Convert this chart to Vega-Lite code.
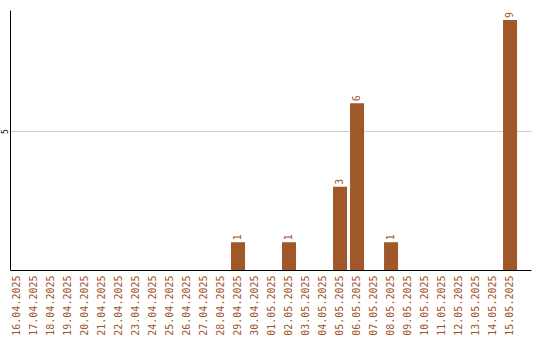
{
  "$schema": "https://vega.github.io/schema/vega-lite/v6.json",
  "autosize": "none",
  "width": 521,
  "height": 260,
  "padding": {"left": 10, "top": 10, "right": 9, "bottom": 70},
  "background": "white",
  "config": {
    "view": {"stroke": null},
    "font": "DejaVu Sans Mono"
  },
  "data": {
    "values": [
      {"date": "16.04.2025", "n": 0},
      {"date": "17.04.2025", "n": 0},
      {"date": "18.04.2025", "n": 0},
      {"date": "19.04.2025", "n": 0},
      {"date": "20.04.2025", "n": 0},
      {"date": "21.04.2025", "n": 0},
      {"date": "22.04.2025", "n": 0},
      {"date": "23.04.2025", "n": 0},
      {"date": "24.04.2025", "n": 0},
      {"date": "25.04.2025", "n": 0},
      {"date": "26.04.2025", "n": 0},
      {"date": "27.04.2025", "n": 0},
      {"date": "28.04.2025", "n": 0},
      {"date": "29.04.2025", "n": 1},
      {"date": "30.04.2025", "n": 0},
      {"date": "01.05.2025", "n": 0},
      {"date": "02.05.2025", "n": 1},
      {"date": "03.05.2025", "n": 0},
      {"date": "04.05.2025", "n": 0},
      {"date": "05.05.2025", "n": 3},
      {"date": "06.05.2025", "n": 6},
      {"date": "07.05.2025", "n": 0},
      {"date": "08.05.2025", "n": 1},
      {"date": "09.05.2025", "n": 0},
      {"date": "10.05.2025", "n": 0},
      {"date": "11.05.2025", "n": 0},
      {"date": "12.05.2025", "n": 0},
      {"date": "13.05.2025", "n": 0},
      {"date": "14.05.2025", "n": 0},
      {"date": "15.05.2025", "n": 9}
    ]
  },
  "encoding": {
    "x": {
      "field": "date",
      "type": "ordinal",
      "sort": null,
      "title": null,
      "scale": {"paddingInner": 0.176, "paddingOuter": 0.41, "align": 0},
      "axis": {
        "labelAngle": -90,
        "labelAlign": "right",
        "labelBaseline": "middle",
        "labelColor": "#a0522d",
        "labelFont": "DejaVu Sans Mono",
        "labelFontSize": 10,
        "labelPadding": 5,
        "labelOverlap": false,
        "ticks": false,
        "domainColor": "#000000",
        "domainWidth": 1,
        "grid": false
      }
    },
    "y": {
      "field": "n",
      "type": "quantitative",
      "title": null,
      "scale": {"domain": [0, 9.36], "nice": false, "zero": true},
      "axis": {
        "values": [5],
        "labelAngle": -90,
        "labelAlign": "center",
        "labelBaseline": "bottom",
        "labelFontSize": 8,
        "labelColor": "#000000",
        "labelPadding": 1,
        "ticks": false,
        "domainColor": "#000000",
        "domainWidth": 1,
        "grid": true,
        "gridColor": "#cccccc",
        "gridWidth": 1
      }
    }
  },
  "layer": [
    {
      "mark": {"type": "bar", "color": "#a0572a"}
    },
    {
      "transform": [{"filter": "datum.n > 0"}],
      "mark": {
        "type": "text",
        "angle": 270,
        "align": "left",
        "baseline": "middle",
        "dx": 2,
        "font": "DejaVu Sans Mono",
        "fontSize": 10,
        "color": "#a0522d"
      },
      "encoding": {"text": {"field": "n", "type": "quantitative"}}
    }
  ]
}
